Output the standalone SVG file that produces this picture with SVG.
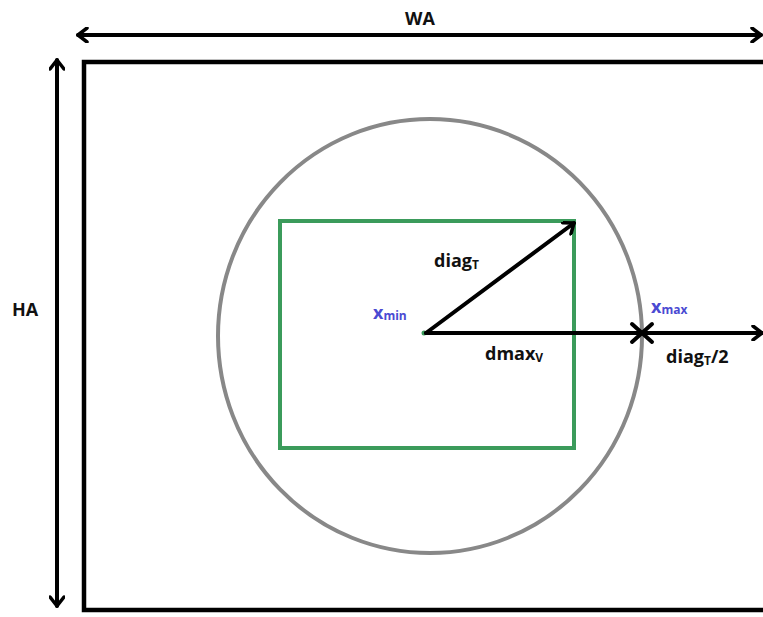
<svg xmlns="http://www.w3.org/2000/svg" width="763" height="617" viewBox="0 0 763 617">
<defs>
<style>
.t{font-family:"Open Sans","Liberation Sans",sans-serif;font-weight:bold;font-size:18px;fill:#111}
.b{font-family:"Open Sans","Liberation Sans",sans-serif;font-weight:bold;font-size:18px;fill:#4a4ad2}
.s{font-size:12px}
.ln{stroke:#000;stroke-width:4;fill:none;stroke-linecap:round}
</style>
<marker id="ah" viewBox="-12 -8 14 16" markerWidth="14" markerHeight="16" refX="0" refY="0" orient="auto-start-reverse" markerUnits="userSpaceOnUse">
<path d="M-9,-7 L0,0 L-9,7" fill="none" stroke="#000" stroke-width="3.5" stroke-linecap="round" stroke-linejoin="round"/>
</marker>
</defs>
<rect width="763" height="617" fill="#fff"/>
<g id="area">
<path d="M765,62 H84 V610 H765" fill="none" stroke="#000" stroke-width="4.5"/>
</g>
<g id="circle">
<ellipse cx="430" cy="336" rx="212" ry="217" fill="none" stroke="#888" stroke-width="4"/>
</g>
<g id="target">
<rect x="280" y="221" width="294" height="227" fill="none" stroke="#3b9b5b" stroke-width="4"/>
<circle cx="424" cy="333" r="2.5" fill="#3b9b5b"/>
</g>
<g id="connectors">
<line class="ln" x1="78" y1="35" x2="761" y2="35" marker-start="url(#ah)" marker-end="url(#ah)"/>
<line class="ln" x1="57" y1="60" x2="57" y2="606" marker-start="url(#ah)" marker-end="url(#ah)"/>
<line class="ln" x1="426" y1="333" x2="574" y2="223" marker-end="url(#ah)"/>
<line class="ln" x1="426" y1="333" x2="762" y2="333" marker-end="url(#ah)"/>
<path class="ln" d="M632,324 L652,342 M652,324 L632,342" stroke-width="3.5"/>
</g>
<g id="labels">
<text class="t" x="405" y="25">WA</text>
<text class="t" x="12" y="316">HA</text>
<text class="t" x="434" y="267">diag<tspan class="s" dy="2">T</tspan></text>
<text class="b" x="373" y="319">x<tspan class="s" dy="1">min</tspan></text>
<text class="t" x="485" y="360">dmax<tspan class="s" dy="2">V</tspan></text>
<text class="b" x="651" y="313">x<tspan class="s" dy="1">max</tspan></text>
<text class="t" x="666" y="363">diag<tspan class="s" dy="2">T</tspan><tspan dy="-2">/2</tspan></text>
</g>
</svg>
